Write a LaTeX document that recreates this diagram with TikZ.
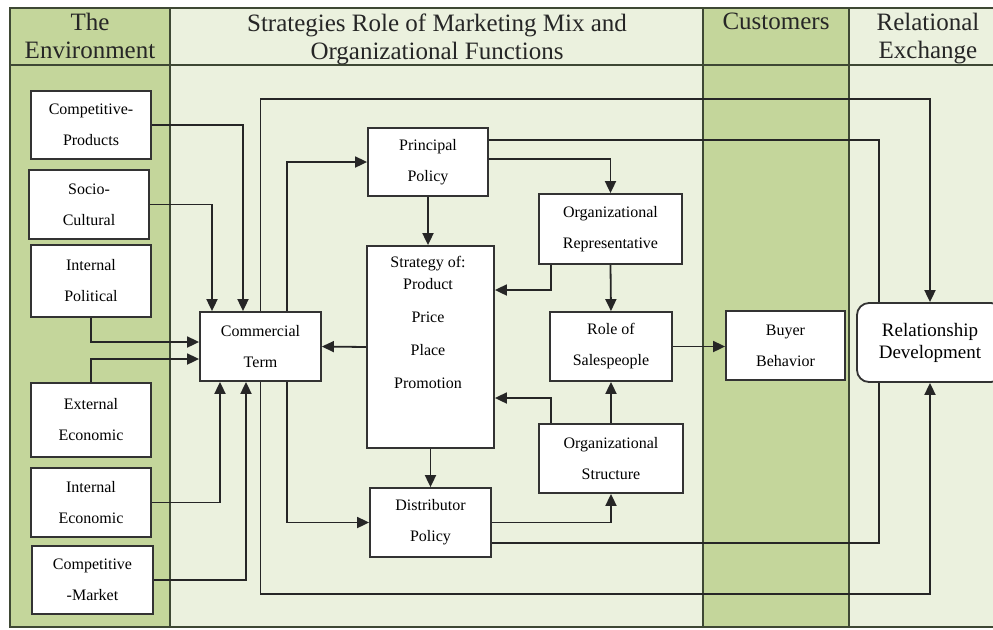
\documentclass[tikz,border=0pt]{standalone}
\usepackage{fontspec}
\setmainfont{Liberation Serif}
\usetikzlibrary{arrows.meta}
\definecolor{envgreen}{RGB}{196,214,155}
\definecolor{palegreen}{RGB}{235,241,222}
\definecolor{framecol}{RGB}{62,72,52}

\begin{document}
\begin{tikzpicture}[x=0.5pt,y=-0.5pt,
    box/.style={draw=black!80, fill=white, line width=0.9pt, align=center, inner sep=0pt, font=\fontsize{8}{15.5}\selectfont},
    head/.style={anchor=north, align=center, inner sep=0pt, text=black!85, font=\fontsize{12.5}{14}\selectfont},
    arr/.style={draw=black!85, line width=0.9pt, -{Triangle[length=6pt,width=5.5pt]}},
    lin/.style={draw=black!85, line width=0.9pt}]
    \useasboundingbox (0,0) rectangle (993,629);
    \clip (0,0) rectangle (993,629);
    %
    \filldraw [draw=framecol, fill=envgreen, line width=1pt] (10,8) rectangle (170,627);
    \filldraw [draw=framecol, fill=palegreen, line width=1pt] (170,8) rectangle (703,627);
    \filldraw [draw=framecol, fill=envgreen, line width=1pt] (703,8) rectangle (849,627);
    \filldraw [draw=framecol, fill=palegreen, line width=1pt] (849,8) rectangle (1010,627);
    \draw [framecol, line width=1pt] (10,65) -- (1010,65);
    \node (HE) [head] at (90,13) {The\\Environment};
    \node (HS) [head] at (437,13) {Strategies Role of Marketing Mix and\\Organizational Functions};
    \node (HC) [head] at (776,13) {Customers};
    \node (HR) [head] at (928,13) {Relational\\Exchange};
    %
    \node (CP) [box, minimum width=60pt, minimum height=34pt] at (91,125) {Competitive-\\Products};
    \node (SC) [box, minimum width=60pt, minimum height=34.5pt] at (89,204.5) {Socio-\\Cultural};
    \node (IP) [box, minimum width=60pt, minimum height=36pt] at (91,281) {Internal\\Political};
    \node (EE) [box, minimum width=60pt, minimum height=37pt] at (91,420) {External\\Economic};
    \node (IE) [box, minimum width=60pt, minimum height=34.5pt] at (91,502.5) {Internal\\Economic};
    \node (CM) [box, minimum width=60.5pt, minimum height=34pt] at (92.5,580) {Competitive\\-Market};
    %
    \node (CT) [box, minimum width=60.5pt, minimum height=34.5pt] at (260.5,346.5) {Commercial\\Term};
    \node (PP) [box, minimum width=60pt, minimum height=34pt] at (428,162) {Principal\\Policy};
    \node (SP) [box, minimum width=63.5pt, minimum height=101pt] at (430.5,347) {};
    \node (SPtext) [align=center, font=\fontsize{8}{16.5}\selectfont] at (428,322) {Strategy of:\\[-5.5pt]Product\\Price\\Place\\Promotion};
    \node (DP) [box, minimum width=60.5pt, minimum height=34.5pt] at (430.5,522.5) {Distributor\\Policy};
    \node (OR) [box, minimum width=71.5pt, minimum height=35pt] at (610.5,229) {Organizational\\Representative};
    \node (RS) [box, minimum width=61pt, minimum height=34.5pt] at (611,346.5) {Role of\\Salespeople};
    \node (OS) [box, minimum width=72pt, minimum height=34.5pt] at (611,458.5) {Organizational\\Structure};
    \node (BB) [box, minimum width=59.5pt, minimum height=34.5pt] at (785.5,345.5) {Buyer\\Behavior};
    \node (RD) [box, rounded corners=6pt, minimum width=73pt, minimum height=39.5pt, font=\fontsize{9.5}{11}\selectfont] at (930,342.5) {Relationship\\Development};
    \coordinate (topline) at (600,99);
    \coordinate (botline) at (600,594);
    %
    \draw[arr] (CP.east) -| ([xshift=-8.75pt]CT.north);
    \draw[arr] (SC.east) -| ([xshift=-24.25pt]CT.north);
    \draw[arr] (IP.south) |- ([yshift=2.25pt]CT.west);
    \draw[arr] (EE.north) |- ([yshift=-6.25pt]CT.west);
    \draw[arr] (IE.east) -| ([xshift=-20.25pt]CT.south);
    \draw[arr] (CM.east) -| ([xshift=-7.25pt]CT.south);
    %
    \draw[arr] (CT.north) |- (topline) -| (RD.north);
    \draw[arr] ([xshift=13.25pt]CT.north) |- (PP.west);
    \draw[arr] (SP.west) -- (CT.east);
    \draw[arr] ([xshift=13.25pt]CT.south) |- (DP.west);
    \draw[arr] (CT.south) |- (botline) -| (RD.south);
    \draw[arr] (PP.south) -- (PP.south |- SP.north);
    \draw[arr] (SP.south) -- (DP.north);
    %
    \draw[lin] ([yshift=11pt]PP.east) -| ([xshift=-25.5pt]RD.north);
    \draw[arr] ([yshift=1.5pt]PP.east) -| (OR.north);
    \draw[arr] ([xshift=-29.75pt]OR.south) |- ([yshift=28.5pt]SP.east);
    \draw[arr] (OR.south) -- (RS.north);
    \draw[arr] (RS.east) -- (RS.east -| BB.west);
    \draw[arr] (OS.north) -- (RS.south);
    \draw[arr] ([xshift=-30pt]OS.north) |- ([yshift=-25.5pt]SP.east);
    \draw[arr] (DP.east) -| (OS.south);
    \draw[lin] ([yshift=-10.25pt]DP.east) -| ([xshift=-25.5pt]RD.south);
\end{tikzpicture}
\end{document}
